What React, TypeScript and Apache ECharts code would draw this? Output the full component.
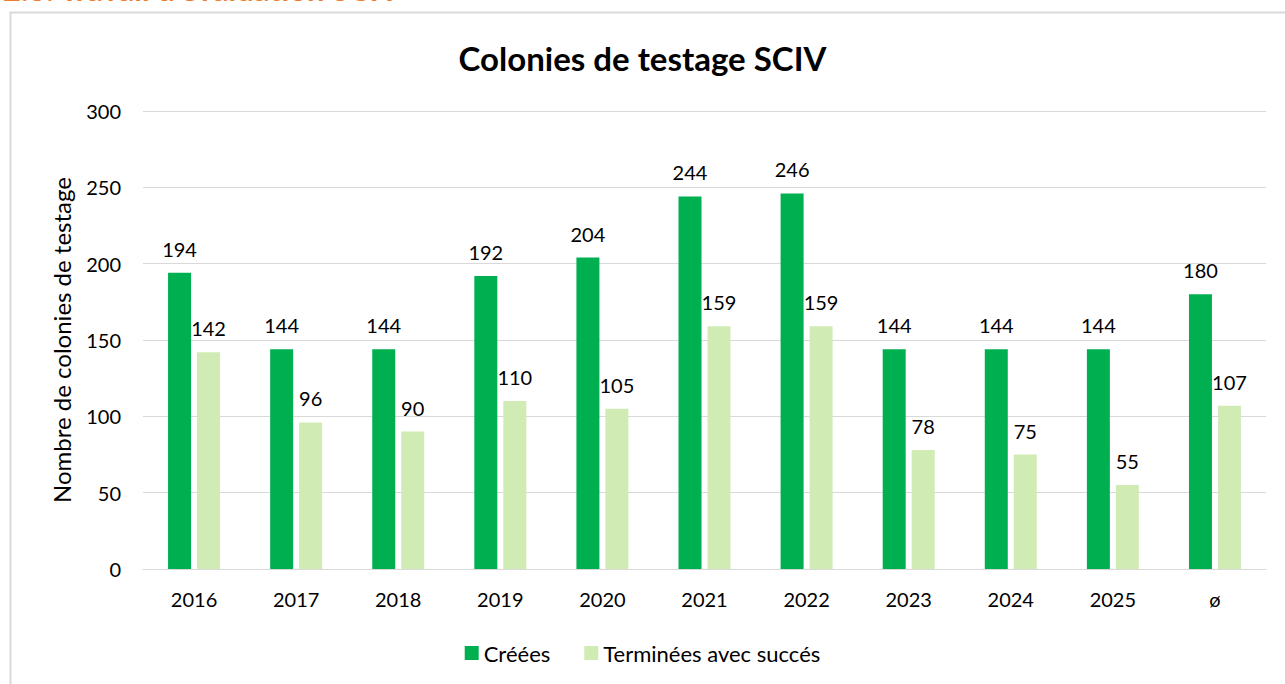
import React, { useEffect, useRef } from "react";
import * as echarts from "echarts";

const categories = ["2016", "2017", "2018", "2019", "2020", "2021", "2022", "2023", "2024", "2025", "ø"];
const creees = [194, 144, 144, 192, 204, 244, 246, 144, 144, 144, 180];
const terminees = [142, 96, 90, 110, 105, 159, 159, 78, 75, 55, 107];
const yTicks = [0, 50, 100, 150, 200, 250, 300];

const FONT = "Lato, 'Open Sans', sans-serif";

export default function App() {
  const ref = useRef<HTMLDivElement>(null);
  useEffect(() => {
    if (!ref.current) return;
    const chart = echarts.init(ref.current, null, { renderer: "svg" });
    const labelStyle = {
      show: true,
      position: "top" as const,
      distance: 14,
      color: "#000",
      fontSize: 20,
      fontFamily: FONT,
    };
    chart.setOption({
      animation: false,
      backgroundColor: "#fff",
      textStyle: { fontFamily: FONT },
      title: {
        text: "Colonies de testage SCIV",
        left: "center",
        top: 36,
        textStyle: { fontSize: 33, fontWeight: "bold", color: "#000", fontFamily: FONT },
      },
      graphic: [
        {
          type: "rect",
          shape: { x: 10.5, y: 12.5, width: 1300, height: 700 },
          style: { fill: "none", stroke: "#d9d9d9", lineWidth: 2 },
          silent: true,
        },
        {
          type: "text",
          left: 3,
          top: -27,
          style: {
            text: "2.6. Travail d'évaluation SCIV",
            fill: "#ED7D31",
            font: "bold 31px " + FONT,
          },
        },
      ],
      legend: {
        bottom: 15,
        left: "center",
        itemWidth: 14,
        itemHeight: 14,
        itemGap: 34,
        icon: "rect",
        textStyle: { fontSize: 22, color: "#000", fontFamily: FONT },
        data: ["Créées", "Terminées avec succés"],
      },
      grid: { left: 143, right: 19, top: 111, bottom: 115, containLabel: false },
      xAxis: {
        type: "category",
        data: categories,
        axisLine: { lineStyle: { color: "#d9d9d9", width: 1 } },
        axisTick: { show: false },
        axisLabel: { fontSize: 20, color: "#000", margin: 20, fontFamily: FONT },
      },
      yAxis: {
        type: "value",
        min: yTicks[0],
        max: yTicks[yTicks.length - 1],
        interval: 50,
        name: "Nombre de colonies de testage",
        nameLocation: "middle",
        nameGap: 70,
        nameTextStyle: { fontSize: 24, color: "#000", fontFamily: FONT },
        axisLine: { show: false },
        axisTick: { show: false },
        axisLabel: { fontSize: 20, color: "#000", margin: 22, fontFamily: FONT },
        splitLine: { lineStyle: { color: "#d9d9d9", width: 1 } },
      },
      series: [
        {
          name: "Créées",
          type: "bar",
          data: creees,
          barWidth: 23,
          barGap: "26%",
          itemStyle: { color: "#00B050" },
          label: labelStyle,
        },
        {
          name: "Terminées avec succés",
          type: "bar",
          data: terminees,
          barWidth: 23,
          itemStyle: { color: "#D0EBB3" },
          label: labelStyle,
        },
      ],
    });
    return () => chart.dispose();
  }, []);
  return (
    <div
      ref={ref}
      style={{ position: "fixed", left: 0, top: 0, width: 1285, height: 684 }}
    />
  );
}
